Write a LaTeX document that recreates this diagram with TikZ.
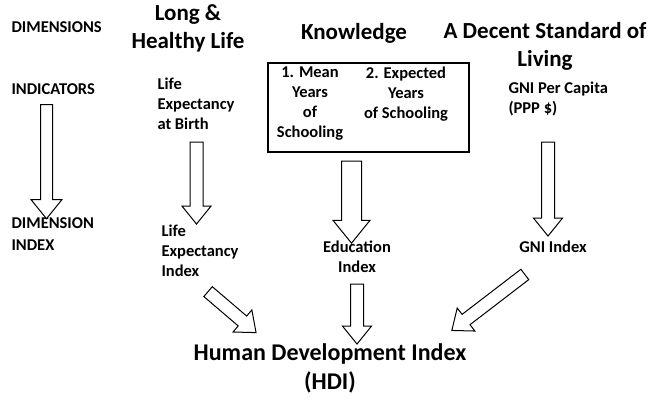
\documentclass[tikz,border=0pt]{standalone}
\usepackage{fontspec}
\setmainfont{Carlito}
\RequirePackage{tikz}
\usetikzlibrary{positioning,calc,shapes.arrows}

\tikzset{
  hollow/.style={single arrow, draw, line width=1pt, fill=white, inner xsep=0pt,
    inner ysep=6pt, minimum width=0pt, single arrow head extend=8pt, single arrow tip angle=78},
  lbl/.style={font=\fontsize{16.5}{22}\selectfont\bfseries, align=left},
  txt/.style={font=\fontsize{16.5}{20}\selectfont\bfseries},
  head/.style={font=\fontsize{23}{28}\selectfont\bfseries, align=center},
}
\newcommand{\hollowarrow}[3][]{%
  \path let \p1=($(#3)-(#2)$), \n1={atan2(\y1,\x1)}, \n2={veclen(\x1,\y1)} in
    node[hollow, minimum height=\n2, rotate=\n1, #1] at ($(#2)!0.5!(#3)$) {};}

\begin{document}
\begin{tikzpicture}[x=1pt, y=-1pt]
			\useasboundingbox (0,0) rectangle (652,402);
			% row labels
			\node [lbl, anchor=west] (dims) at (8,27) {DIMENSIONS};
			\node [lbl, anchor=west] (ind) at (8,89) {INDICATORS};
			\node [lbl, anchor=north west] (dimidx) at (8,214) {DIMENSION\\INDEX};
			% dimensions
			\node [head] (health) at (188,28) {Long \&\\Healthy Life};
			\node [head] (know) at (354,33) {Knowledge};
			\node [head] (decent) at (545,46) {A Decent Standard of\\Living};
			% indicators
			\node [txt, align=left, anchor=north west] (leb) at (154,74) {Life\\Expectancy\\at Birth};
			\node [draw, line width=1.2pt, minimum width=201pt, minimum height=89pt] (box) at (368.5,107.5) {};
			\node [txt, align=center] (mean) at (310,104) {1. Mean\\Years\\of\\Schooling};
			\node [txt, align=center] (expect) at (406,94) {2. Expected\\Years\\of Schooling};
			\node [txt, align=left, anchor=north west] (gnipc) at (505,78) {GNI Per Capita\\(PPP \$)};
			% indices
			\node [txt, align=left, anchor=north west] (leidx) at (158,221) {Life\\Expectancy\\Index};
			\node [txt, align=center] (eduidx) at (357,257) {Education\\Index};
			\node [txt] (gniidx) at (553,247) {GNI Index};
			\node [font=\fontsize{24}{29}\selectfont\bfseries, align=center] (hdi) at (330,368) {Human Development Index\\(HDI)};
			% arrow ends
			\coordinate (a1) at (46.5,101);  \coordinate (b1) at (46.5,215);
			\coordinate (a2) at (196.5,138); \coordinate (b2) at (196.5,220);
			\coordinate (a3) at (351.5,155); \coordinate (b3) at (351.5,237);
			\coordinate (a4) at (548,138);   \coordinate (b4) at (548,232);
			\coordinate (a5) at (357,280);   \coordinate (b5) at (357,340);
			\coordinate (a6) at (205,289);   \coordinate (b6) at (253,330);
			\coordinate (a7) at (528,272);   \coordinate (b7) at (455,328);
			\hollowarrow[inner ysep=5.5pt, single arrow head extend=9.5pt]{a1}{b1}
			\hollowarrow{a2}{b2}
			\hollowarrow[inner ysep=9.5pt, single arrow head extend=8.5pt]{a3}{b3}
			\hollowarrow{a4}{b4}
			\hollowarrow{a5}{b5}
			\hollowarrow{a6}{b6}
			\hollowarrow{a7}{b7}
		\end{tikzpicture}
\end{document}
